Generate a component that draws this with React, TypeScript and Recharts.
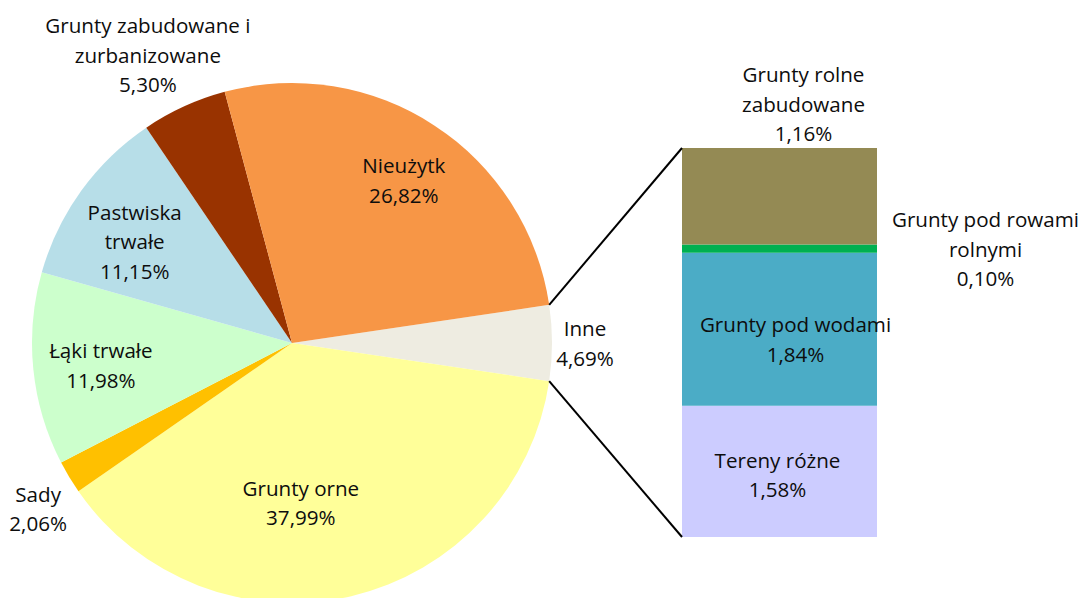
import React from "react";
import { PieChart, Pie, Cell, BarChart, Bar, XAxis, YAxis } from "recharts";

// main pie, clockwise starting from the "Inne" slice
const pieNames = [
  "Inne",
  "Grunty orne",
  "Sady",
  "Łąki trwałe",
  "Pastwiska\ntrwałe",
  "Grunty zabudowane i\nzurbanizowane",
  "Nieużytk",
];
const pieValues = [4.69, 37.99, 2.06, 11.98, 11.15, 5.3, 26.82];
const pieColors = ["#EEECE1", "#FFFF99", "#FFC000", "#CCFFCC", "#B7DEE8", "#993300", "#F79646"];

// breakdown of "Inne", bottom to top
const barKeys = ["teren", "wody", "rowy", "rolne"];
const barNames = ["Tereny różne", "Grunty pod wodami", "Grunty pod rowami\nrolnymi", "Grunty rolne\nzabudowane"];
const barValues = [1.58, 1.84, 0.1, 1.16];
const barColors = ["#CCCCFF", "#4BACC6", "#00B050", "#948A54"];

const W = 1083;
const H = 598;
const FONT = "'Open Sans', sans-serif";
const FS = 20.6;
const LH = 29.5;

const PIE_CX = 292;
const PIE_CY = 343;
const PIE_R = 260;

const BAR_LEFT = 682;
const BAR_RIGHT = 877;
const BAR_TOP = 148;
const BAR_BOTTOM = 537;

const RAD = Math.PI / 180;
const fmt = (v: number) => v.toFixed(2).replace(".", ",") + "%";

// label placement: radius as a share of the pie radius, angle shift in degrees
const pieLabelPos = [
  { r: 1.127, da: 0 },
  { r: 0.615, da: -10 },
  { r: 1.165, da: 2 },
  { r: 0.74, da: 0.8 },
  { r: 0.72, da: 3 },
  { r: 1.24, da: 2 },
  { r: 0.76, da: -1.2 },
];

// bar label offsets relative to the segment centre (rolne is placed above the bar)
const barLabelPos: Record<string, { dx: number; dy: number; above?: boolean }> = {
  teren: { dx: -2, dy: 3 },
  wody: { dx: 16, dy: 10 },
  rowy: { dx: 206, dy: 0 },
  rolne: { dx: 24, dy: 0, above: true },
};

const MultiLine = ({ x, y, lines }: { x: number; y: number; lines: string[] }) => {
  const y0 = y - ((lines.length - 1) * LH) / 2;
  return (
    <text x={x} y={y0} textAnchor="middle" fontFamily={FONT} fontSize={FS} fill="#0d0d0d">
      {lines.map((l, i) => (
        <tspan key={i} x={x} y={y0 + i * LH} dominantBaseline="central">
          {l}
        </tspan>
      ))}
    </text>
  );
};

const pieData = pieNames.map((name, i) => ({ name, value: pieValues[i] }));
const barRow: Record<string, number | string> = { name: "Inne" };
barKeys.forEach((k, i) => (barRow[k] = barValues[i]));
const barTotal = barValues.reduce((a, b) => a + b, 0);

const renderPieLabel = (props: any) => {
  const { cx, cy, midAngle, outerRadius, index } = props;
  const p = pieLabelPos[index];
  const a = (midAngle + p.da) * RAD;
  const r = outerRadius * p.r;
  const x = cx + r * Math.cos(a);
  const y = cy - r * Math.sin(a);
  const lines = [...pieNames[index].split("\n"), fmt(pieValues[index])];
  return <MultiLine key={index} x={x} y={y} lines={lines} />;
};

const makeBarLabel = (i: number) => (props: any) => {
  const { x, y, width, height } = props;
  const k = barKeys[i];
  const p = barLabelPos[k];
  const lines = [...barNames[i].split("\n"), fmt(barValues[i])];
  const cx = x + width / 2 + p.dx;
  const cy = p.above ? y - 15 - ((lines.length - 1) * LH) / 2 : y + height / 2 + p.dy;
  return <MultiLine x={cx} y={cy} lines={lines} />;
};

export default function App() {
  const half = (pieValues[0] / 100) * 180 * RAD;
  const px = PIE_CX + PIE_R * Math.cos(half);
  const pyTop = PIE_CY - PIE_R * Math.sin(half);
  const pyBot = PIE_CY + PIE_R * Math.sin(half);
  const startAngle = (pieValues[0] / 100) * 180;

  return (
    <div style={{ position: "absolute", left: 0, top: 0, width: W, height: H, background: "#fff" }}>
      <div style={{ position: "absolute", left: 0, top: 0 }}>
        <PieChart width={W} height={H} margin={{ top: 0, right: 0, bottom: 0, left: 0 }}>
          <Pie
            data={pieData}
            dataKey="value"
            cx={PIE_CX}
            cy={PIE_CY}
            outerRadius={PIE_R}
            startAngle={startAngle}
            endAngle={startAngle - 360}
            stroke="none"
            labelLine={false}
            label={renderPieLabel}
            isAnimationActive={false}
          >
            {pieData.map((d, i) => (
              <Cell key={d.name} fill={pieColors[i]} />
            ))}
          </Pie>
        </PieChart>
      </div>
      <div style={{ position: "absolute", left: 0, top: 0 }}>
        <BarChart
          width={W}
          height={H}
          data={[barRow]}
          barCategoryGap={0}
          margin={{ top: BAR_TOP, bottom: H - BAR_BOTTOM, left: BAR_LEFT, right: W - BAR_RIGHT }}
        >
          <XAxis dataKey="name" hide />
          <YAxis hide domain={[0, barTotal]} />
          {barKeys.map((k, i) => (
            <Bar
              key={k}
              dataKey={k}
              stackId="a"
              fill={barColors[i]}
              isAnimationActive={false}
              label={makeBarLabel(i)}
            />
          ))}
        </BarChart>
      </div>
      <svg width={W} height={H} style={{ position: "absolute", left: 0, top: 0 }}>
        <line x1={px} y1={pyTop} x2={BAR_LEFT} y2={BAR_TOP} stroke="#000" strokeWidth={2} />
        <line x1={px} y1={pyBot} x2={BAR_LEFT} y2={BAR_BOTTOM} stroke="#000" strokeWidth={2} />
      </svg>
    </div>
  );
}
